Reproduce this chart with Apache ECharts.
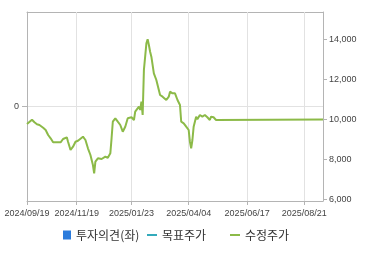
<!DOCTYPE html>
<html>
<head>
<meta charset="utf-8">
<script src="https://cdn.jsdelivr.net/npm/echarts@6/dist/echarts.min.js"></script>
<style>
html,body{margin:0;padding:0;background:#fff;}
#chart{width:370px;height:255px;}
</style>
</head>
<body>
<div id="chart"></div>
<script>
// Series names
const seriesNames = ['투자의견(좌)', '목표주가', '수정주가'];

// X-axis tick labels
const tickLabels = ['2024/09/19', '2024/11/19', '2025/01/23', '2025/04/04', '2025/06/17', '2025/08/21'];
// Right axis tick labels
const rightTicks = [6000, 8000, 10000, 12000, 14000];
// Left axis tick labels
const leftTicks = [0];

// Trading calendar (KRX holidays in range)
const firstDay = '2024/09/19';
const lastDay = '2025/09/11';
const holidays = ['2024/10/01','2024/10/03','2024/10/09','2024/12/25','2024/12/31','2025/01/01',
  '2025/01/27','2025/01/28','2025/01/29','2025/01/30','2025/03/03','2025/05/01','2025/05/05',
  '2025/05/06','2025/06/03','2025/06/06','2025/08/15'];

// 수정주가: trading-day index and value
const priceDay = [0,4,6,8,10,13,15,17,19,21,22,24,27,29,32,33,35,37,39,41,45,47,49,51,53,54,55,57,60,63,65,67,68,69,71,73,75,77,79,81,84,86,87,90,91,92,93,94,96,97,98,99,100,102,103,104,106,107,109,110,112,114,115,117,118,119,121,122,123,124,126,128,130,131,132,133,134,136,137,139,141,143,145,147,148,150,152,153,238];
const priceValue = [9775,9990,9860,9760,9725,9590,9475,9225,9060,8860,8760,8860,8860,9025,9110,8890,8475,8640,8890,8940,9140,8975,8560,8225,7725,7310,7890,8060,8025,8140,8090,8310,9060,9890,10060,9890,9725,9390,9640,10060,10110,9975,10390,10640,10475,10890,10225,12475,13810,14010,13725,13390,13140,12310,12390,11975,11475,11225,11140,11060,10975,11140,11390,11310,11390,11310,10975,11060,10725,9890,9810,9640,9475,8890,8560,8975,9640,10140,10010,10225,10140,10225,10110,9975,10140,10110,9975,10000,10000];

// 목표주가 and 투자의견: no values shown
const targetValue = [];
const opinionValue = [];

function tradingDays(start, end, skip) {
  const out = [];
  const s = start.split('/').map(Number), e = end.split('/').map(Number);
  let d = new Date(Date.UTC(s[0], s[1]-1, s[2]));
  const stop = new Date(Date.UTC(e[0], e[1]-1, e[2]));
  while (d <= stop) {
    const wd = d.getUTCDay();
    const str = d.getUTCFullYear() + '/' + String(d.getUTCMonth()+1).padStart(2,'0') + '/' + String(d.getUTCDate()).padStart(2,'0');
    if (wd !== 0 && wd !== 6 && skip.indexOf(str) < 0) out.push(str);
    d = new Date(d.getTime() + 86400000);
  }
  return out;
}
const dates = tradingDays(firstDay, lastDay, holidays);
const tickIdx = tickLabels.map(l => dates.indexOf(l));

const axisColor = '#b4b4b4';
const gridLineColor = '#e2e2e2';
const labelFont = {color:'#444', fontSize:9, fontFamily:'"Liberation Sans",Arial,sans-serif'};

const chart = echarts.init(document.getElementById('chart'), null, {renderer:'canvas'});
const legendBase = {
  orient:'horizontal', top:229, padding:0, itemGap:0, selectedMode:false,
  textStyle:{color:'#333', fontSize:12, fontFamily:'"Noto Sans CJK KR","Noto Sans",sans-serif'}
};
chart.setOption({
  animation:false,
  grid:{left:27, right:47, top:12, bottom:54, show:false, containLabel:false},
  legend:[
    Object.assign({}, legendBase, {left:63, itemWidth:8, itemHeight:9, icon:'rect', data:[seriesNames[0]]}),
    Object.assign({}, legendBase, {left:147, itemWidth:10, itemHeight:2, icon:'rect', data:[seriesNames[1]]}),
    Object.assign({}, legendBase, {left:230, itemWidth:10, itemHeight:2, icon:'rect', data:[seriesNames[2]]})
  ],
  xAxis:[{
    type:'value', min:0, max:dates.length - 1, position:'bottom',
    axisLine:{show:true, onZero:false, lineStyle:{color:axisColor}},
    axisTick:{show:true, inside:false, customValues:tickIdx, length:4, lineStyle:{color:axisColor, width:1}},
    axisLabel:{customValues:tickIdx, margin:8, formatter:v => dates[v], ...labelFont},
    splitLine:{show:false}
  }, {
    type:'value', min:0, max:dates.length - 1, position:'top',
    axisLine:{show:true, onZero:false, lineStyle:{color:axisColor}},
    axisTick:{show:false}, axisLabel:{show:false}, splitLine:{show:false}
  }],
  yAxis:[
    {type:'value', position:'left', min:-1, max:1, interval:1,
     axisLine:{show:true, onZero:false, lineStyle:{color:axisColor}},
     axisTick:{show:true, length:5, customValues:leftTicks, lineStyle:{color:axisColor}},
     axisLabel:{margin:8, customValues:leftTicks, ...labelFont},
     splitLine:{show:true, lineStyle:{color:gridLineColor, width:1, type:'solid', opacity:1}}},
    {type:'value', position:'right', min:5925, max:15375,
     axisLine:{show:true, onZero:false, lineStyle:{color:axisColor}},
     axisTick:{show:true, length:4, customValues:rightTicks, lineStyle:{color:axisColor}},
     axisLabel:{margin:6, customValues:rightTicks, formatter:v => echarts.format.addCommas(v), ...labelFont},
     splitLine:{show:false}}
  ],
  series:[
    {name:seriesNames[0], type:'bar', yAxisIndex:0, data:opinionValue, itemStyle:{color:'#2b7bdc'}},
    {name:seriesNames[1], type:'line', yAxisIndex:1, data:targetValue, symbol:'none',
     itemStyle:{color:'#33aabb'}, lineStyle:{color:'#33aabb', width:2}},
    {name:seriesNames[2], type:'line', yAxisIndex:1, symbol:'none', z:3,
     data:priceDay.map((d, i) => [d, priceValue[i]]),
     itemStyle:{color:'#8cba48'}, lineStyle:{color:'#8cba48', width:2},
     markLine:{silent:true, z:1, symbol:['none','none'], label:{show:false},
       lineStyle:{color:gridLineColor, width:1, type:'solid'},
       emphasis:{disabled:true},
       data:tickIdx.filter(i => i > 0).map(i => ({xAxis:i}))}}
  ]
});
</script>
</body>
</html>
